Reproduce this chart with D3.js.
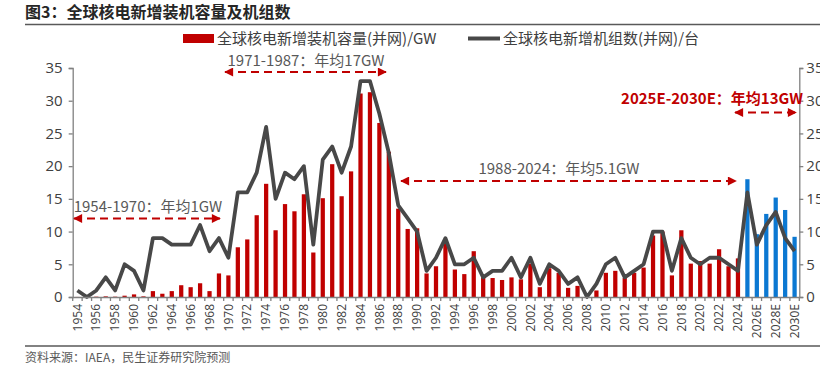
<!DOCTYPE html>
<html><head><meta charset="utf-8">
<script src="https://cdn.jsdelivr.net/npm/d3@7"></script>
<style>
html,body{margin:0;padding:0;background:#fff;}
svg{display:block;font-family:"Noto Sans CJK SC","Noto Sans",sans-serif;}
</style></head>
<body><svg id="c" width="820" height="366"></svg>
<script>
const years = ["1954","1955","1956","1957","1958","1959","1960","1961","1962","1963","1964","1965","1966","1967","1968","1969","1970","1971","1972","1973","1974","1975","1976","1977","1978","1979","1980","1981","1982","1983","1984","1985","1986","1987","1988","1989","1990","1991","1992","1993","1994","1995","1996","1997","1998","1999","2000","2001","2002","2003","2004","2005","2006","2007","2008","2009","2010","2011","2012","2013","2014","2015","2016","2017","2018","2019","2020","2021","2022","2023","2024","2025E","2026E","2027E","2028E","2029E","2030E"];
const capacityGW = [0.01,0,0.05,0.1,0.05,0.2,0.4,0.1,0.9,0.5,0.9,1.8,1.5,2.1,0.9,3.6,3.3,7.6,8.8,12.5,17.3,10.2,14.2,13.1,15.7,6.8,15.1,20.3,15.4,19.2,31.1,31.3,26.6,22.2,13.5,10.4,10.5,3.6,4.7,8.2,4.2,3.5,7.0,3.0,2.9,2.6,3.0,2.7,5.1,1.5,4.4,3.7,1.4,1.7,0,1.0,3.7,4.0,2.9,3.7,4.5,9.4,10.0,3.3,10.2,5.1,5.5,5.1,7.3,4.7,5.9,18.0,9.6,12.7,15.2,13.3,9.2];
const units = [1,0,1,3,1,5,4,1,9,9,8,8,8,11,7,9,6,16,16,19,26,15,19,18,20,8,21,23,19,23,33,33,28,22,14,12,10,4,6,9,5,5,6,3,4,4,6,3,6,2,5,4,2,3,0,2,5,6,3,4,5,10,10,4,9,6,5,6,6,5,4,16,8,11,13,9,7];
const forecastYears = ["2025E","2026E","2027E","2028E","2029E","2030E"];
const yTicks = [0,5,10,15,20,25,30,35];
const xLabelYears = years.filter((d,i)=>i%2===0);
const title = "图3：全球核电新增装机容量及机组数";
const legendBar = "全球核电新增装机容量(并网)/GW";
const legendLine = "全球核电新增机组数(并网)/台";
const source = "资料来源：IAEA，民生证券研究院预测";
const annotations = [
  "1954-1970：年均1GW",
  "1971-1987：年均17GW",
  "1988-2024：年均5.1GW",
  "2025E-2030E：年均13GW"
];

const RED="#C00000", BLUE="#0B78D2", LINE="#484848", AX="#808080", TXT="#404040";
const svg = d3.select("#c");
const m = {l:72.7, r:799.3, t:68, b:297};
const x = d3.scaleBand().domain(years).range([m.l,m.r]).paddingInner(0.55).paddingOuter(0.275);
const xc = d => x(d)+x.bandwidth()/2;
const y = d3.scaleLinear().domain([0,35]).range([m.b,m.t]);

// title
svg.append("text").attr("x",25).attr("y",18).attr("font-size",16).attr("font-weight","bold")
  .attr("fill","#262626").text(title);
svg.append("line").attr("x1",25).attr("x2",820).attr("y1",24.5).attr("y2",24.5).attr("stroke","#595959").attr("stroke-width",1.5);

// legend
svg.append("rect").attr("x",183).attr("y",34).attr("width",31).attr("height",9).attr("fill",RED);
svg.append("text").attr("x",217).attr("y",44).attr("font-size",15).attr("fill",TXT).text(legendBar);
svg.append("line").attr("x1",468).attr("x2",500).attr("y1",38.5).attr("y2",38.5).attr("stroke",LINE).attr("stroke-width",4);
svg.append("text").attr("x",503).attr("y",44).attr("font-size",15).attr("fill",TXT).text(legendLine);

// bars
const data = years.map((d,i)=>({year:d, cap:capacityGW[i], n:units[i]}));
svg.append("g").selectAll("rect").data(data).join("rect")
  .attr("x",d=>x(d.year)).attr("width",x.bandwidth())
  .attr("y",d=>y(d.cap)).attr("height",d=>y(0)-y(d.cap))
  .attr("fill",d=>forecastYears.includes(d.year)?BLUE:RED);

// line
svg.append("path").datum(data).attr("fill","none").attr("stroke",LINE).attr("stroke-width",3.8)
  .attr("stroke-linejoin","round")
  .attr("d",d3.line().x(d=>xc(d.year)).y(d=>y(d.n)));

// axes
const gl = svg.append("g").attr("transform",`translate(${m.l},0)`)
  .call(d3.axisLeft(y).tickValues(yTicks).tickSize(4).tickPadding(6));
const gr = svg.append("g").attr("transform",`translate(${m.r},0)`)
  .call(d3.axisRight(y).tickValues(yTicks).tickSize(4).tickPadding(3));
[gl,gr].forEach(g=>{
  g.select(".domain").attr("stroke",AX).attr("stroke-width",1.3);
  g.selectAll(".tick line").attr("stroke",AX).attr("stroke-width",1.3);
  g.selectAll(".tick text").attr("font-size",15).attr("fill",TXT).attr("font-family","'Open Sans','Noto Sans',sans-serif");
});
const gx = svg.append("g").attr("transform",`translate(0,${m.b})`)
  .call(d3.axisBottom(x).tickValues(xLabelYears).tickSize(0).tickPadding(6));
gx.select(".domain").attr("stroke",AX).attr("stroke-width",1.3);
gx.selectAll(".tick text").attr("font-size",12).attr("fill",TXT)
  .attr("font-family","'Open Sans','Noto Sans',sans-serif")
  .attr("transform","rotate(-90)").attr("text-anchor","end").attr("dy","0.35em").attr("dx",0).attr("x",-7).attr("y",0);
// category boundary ticks
svg.append("g").selectAll("line").data(years.concat(["end"])).join("line")
  .attr("x1",(d,i)=> i<years.length ? x(d)-x.step()*x.paddingInner()/2 : m.r)
  .attr("x2",(d,i)=> i<years.length ? x(d)-x.step()*x.paddingInner()/2 : m.r)
  .attr("y1",m.b).attr("y2",m.b+4).attr("stroke",AX).attr("stroke-width",1.3);

// annotations
const defs = svg.append("defs");
defs.append("marker").attr("id","ah").attr("viewBox","0 0 10 10").attr("refX",9).attr("refY",5)
  .attr("markerWidth",10).attr("markerHeight",9).attr("markerUnits","userSpaceOnUse").attr("orient","auto-start-reverse")
  .append("path").attr("d","M0,0L10,5L0,10Z").attr("fill",RED);
const arrows = [
  {x1:73, x2:221, ya:218.5},
  {x1:224, x2:387, ya:72},
  {x1:400, x2:737, ya:181},
  {x1:734, x2:797, ya:112.5}
];
arrows.forEach(o=>{
  svg.append("line").attr("x1",o.x1+1).attr("x2",o.x2-1).attr("y1",o.ya).attr("y2",o.ya)
    .attr("stroke",RED).attr("stroke-width",2).attr("stroke-dasharray","8,5")
    .attr("marker-start","url(#ah)").attr("marker-end","url(#ah)");
});
svg.append("text").attr("x",148).attr("y",212).attr("text-anchor","middle").attr("font-size",15).attr("fill","#595959").text(annotations[0]);
svg.append("text").attr("x",306).attr("y",66).attr("text-anchor","middle").attr("font-size",15).attr("fill","#595959").text(annotations[1]);
svg.append("text").attr("x",559).attr("y",174).attr("text-anchor","middle").attr("font-size",15).attr("fill","#595959").text(annotations[2]);
svg.append("text").attr("x",712).attr("y",104).attr("text-anchor","middle").attr("font-size",15).attr("font-weight","bold").attr("fill",RED).text(annotations[3]);

// footer
svg.append("line").attr("x1",25).attr("x2",820).attr("y1",346).attr("y2",346).attr("stroke","#595959").attr("stroke-width",1.5);
svg.append("text").attr("x",25).attr("y",362).attr("font-size",12).attr("fill","#595959").text(source);
</script></body></html>
